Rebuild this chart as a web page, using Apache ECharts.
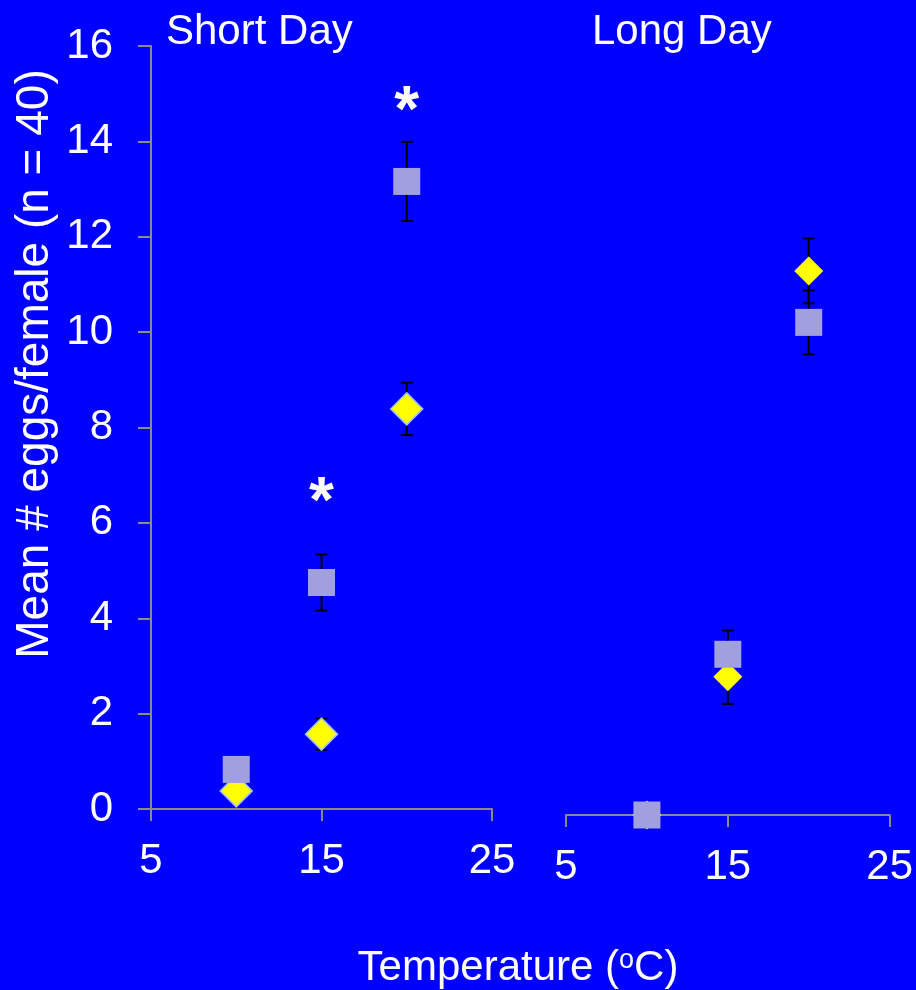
<!DOCTYPE html>
<html>
<head>
<meta charset="utf-8">
<script src="https://cdn.jsdelivr.net/npm/echarts@6/dist/echarts.min.js"></script>
<style>
  html, body { margin: 0; padding: 0; background: #0000ff; }
  #chart { width: 916px; height: 990px; }
</style>
</head>
<body>
<div id="chart"></div>
<script>
// Temperatures (°C) at which eggs were counted
const temps = [10, 15, 20];

// Short Day photoperiod
const shortDiamond = [0.38, 1.57, 8.39];
const shortDiamondErr = [0.2, 0.33, 0.55];
const shortSquare = [0.83, 4.75, 13.16];
const shortSquareErr = [0.2, 0.59, 0.83];

// Long Day photoperiod
const longDiamond = [0.0, 2.90, 11.41];
const longDiamondErr = [0.0, 0.57, 0.68];
const longSquare = [0.0, 3.37, 10.33];
const longSquareErr = [0.0, 0.50, 0.67];

// Significance markers (Short Day)
const sigTemps = [15, 20];
const sigHeights = [6.6, 14.8];

// Axis ticks
const xTicks = [5, 15, 25];
const yMin = 0, yMax = 16, yStep = 2;

const FONT = '"Liberation Sans", Arial, Helvetica, sans-serif';
const AXIS_GREY = '#8a8a8a';
const SQUARE_COLOR = '#a0a0e0';
const DIAMOND_COLOR = '#ffff00';

const pairs = (xs, ys) => xs.map((x, i) => [x, ys[i]]);
const triples = (xs, ys, es) => xs.map((x, i) => [x, ys[i], es[i]]);

function errorBars(params, api) {
  const x = api.value(0), m = api.value(1), e = api.value(2);
  const top = api.coord([x, m + e]);
  const bot = api.coord([x, m - e]);
  const cap = 6;
  const style = { stroke: '#000', lineWidth: 2 };
  return {
    type: 'group',
    children: [
      { type: 'line', shape: { x1: top[0], y1: top[1], x2: bot[0], y2: bot[1] }, style },
      { type: 'line', shape: { x1: top[0] - cap, y1: top[1], x2: top[0] + cap, y2: top[1] }, style },
      { type: 'line', shape: { x1: bot[0] - cap, y1: bot[1], x2: bot[0] + cap, y2: bot[1] }, style }
    ]
  };
}

function asterisk(params, api) {
  const p = api.coord([api.value(0), api.value(1)]);
  return {
    type: 'text', x: p[0], y: p[1] + 10,
    style: { text: '*', fill: '#ffffff', font: 'bold 64px ' + FONT, align: 'center', verticalAlign: 'middle' }
  };
}

function xAxisFor(gridIndex) {
  return {
    gridIndex, type: 'value', min: 5, max: 25, interval: 5,
    axisLine: { show: true, onZero: false, lineStyle: { color: AXIS_GREY, width: 2 } },
    axisTick: { show: true, length: 12, customValues: xTicks, lineStyle: { color: AXIS_GREY, width: 2 } },
    axisLabel: { customValues: xTicks, color: '#fff', fontSize: 42, fontFamily: FONT, margin: 31 },
    splitLine: { show: false }
  };
}

const chart = echarts.init(document.getElementById('chart'), null, { renderer: 'canvas' });

chart.setOption({
  backgroundColor: '#0000ff',
  animation: false,
  grid: [
    { left: 151, top: 46, width: 341, height: 763 },
    { left: 566, top: 52, width: 324, height: 763 }
  ],
  xAxis: [xAxisFor(0), xAxisFor(1)],
  yAxis: [
    {
      gridIndex: 0, type: 'value', min: yMin, max: yMax, interval: yStep,
      axisLine: { show: true, lineStyle: { color: AXIS_GREY, width: 2 } },
      axisTick: { show: true, length: 13, lineStyle: { color: AXIS_GREY, width: 2 } },
      axisLabel: { color: '#fff', fontSize: 42, fontFamily: FONT, margin: 38 },
      splitLine: { show: false }
    },
    { gridIndex: 1, type: 'value', min: yMin, max: yMax, interval: yStep, show: false, splitLine: { show: false } }
  ],
  series: [
    { type: 'custom', xAxisIndex: 0, yAxisIndex: 0, renderItem: errorBars, data: triples(temps, shortDiamond, shortDiamondErr), z: 1 },
    { type: 'custom', xAxisIndex: 0, yAxisIndex: 0, renderItem: errorBars, data: triples(temps, shortSquare, shortSquareErr), z: 1 },
    { type: 'custom', xAxisIndex: 1, yAxisIndex: 1, renderItem: errorBars, data: triples(temps, longDiamond, longDiamondErr), z: 1 },
    { type: 'custom', xAxisIndex: 1, yAxisIndex: 1, renderItem: errorBars, data: triples(temps, longSquare, longSquareErr), z: 1 },
    {
      type: 'scatter', xAxisIndex: 0, yAxisIndex: 0, symbol: 'diamond', symbolSize: [32, 32],
      itemStyle: { color: DIAMOND_COLOR, borderColor: '#9fc4ee', borderWidth: 1.5, opacity: 1 },
      data: pairs(temps, shortDiamond), z: 2
    },
    {
      type: 'scatter', xAxisIndex: 0, yAxisIndex: 0, symbol: 'rect', symbolSize: 27,
      itemStyle: { color: SQUARE_COLOR, opacity: 1 },
      data: pairs(temps, shortSquare), z: 3
    },
    {
      type: 'scatter', xAxisIndex: 1, yAxisIndex: 1, symbol: 'diamond', symbolSize: [29, 29],
      itemStyle: { color: DIAMOND_COLOR, opacity: 1 },
      data: pairs(temps, longDiamond), z: 2
    },
    {
      type: 'scatter', xAxisIndex: 1, yAxisIndex: 1, symbol: 'rect', symbolSize: 27,
      itemStyle: { color: SQUARE_COLOR, opacity: 1 },
      data: pairs(temps, longSquare), z: 3
    },
    {
      type: 'custom', xAxisIndex: 0, yAxisIndex: 0, renderItem: asterisk, silent: true,
      data: pairs(sigTemps, sigHeights), z: 4
    }
  ],
  graphic: [
    { type: 'text', left: 166, top: 11, style: { text: 'Short Day', fill: '#fff', font: '42px ' + FONT } },
    { type: 'text', left: 592, top: 11, style: { text: 'Long Day', fill: '#fff', font: '42px ' + FONT } },
    {
      type: 'text', x: 35, y: 364, rotation: Math.PI / 2,
      style: { text: 'Mean # eggs/female (n = 40)', fill: '#fff', font: '46px ' + FONT, align: 'center', verticalAlign: 'middle' }
    },
    {
      type: 'text', x: 518, y: 968,
      style: {
        text: '{t|Temperature (}{s|o}{t|C)}', align: 'center', verticalAlign: 'middle',
        rich: {
          t: { fill: '#fff', fontSize: 42, fontFamily: FONT, verticalAlign: 'bottom' },
          s: { fill: '#fff', fontSize: 27, fontFamily: FONT, verticalAlign: 'top' }
        }
      }
    }
  ]
});
</script>
</body>
</html>
